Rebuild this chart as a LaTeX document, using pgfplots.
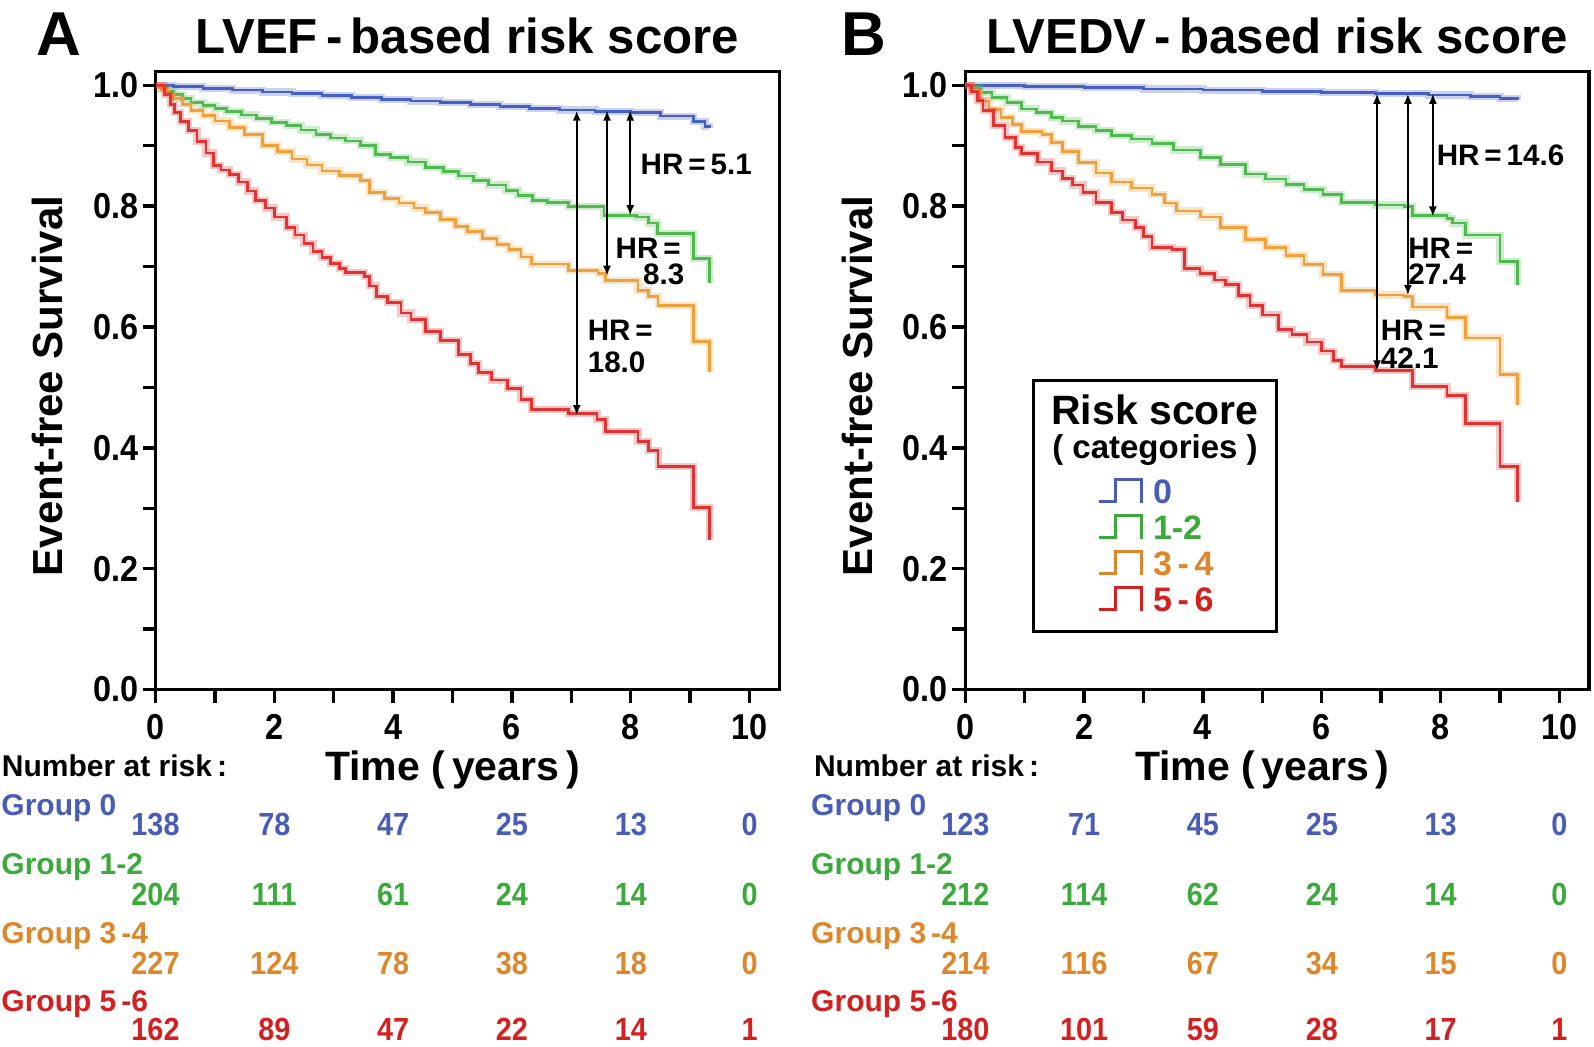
\documentclass[border=0pt]{standalone}
\usepackage{fontspec}
\setmainfont{Liberation Sans}
\newfontfamily\condfont{Liberation Sans}[FakeStretch=0.9]
\usepackage{pgfplots}
\pgfplotsset{compat=1.18}
\usepackage{pgfplotstable}
\usetikzlibrary{arrows.meta}

\definecolor{cblue}{RGB}{70,95,195}
\definecolor{cgreen}{RGB}{80,185,80}
\definecolor{corange}{RGB}{240,160,60}
\definecolor{cred}{RGB}{228,50,50}
\definecolor{tblue}{RGB}{72,92,184}
\definecolor{tgreen}{RGB}{58,170,58}
\definecolor{torange}{RGB}{222,134,42}
\definecolor{tred}{RGB}{212,32,32}

% ---------- Panel A data ----------
\pgfplotstableread{
x y
0 1.000
0.3 0.998
0.8 0.995
1.3 0.992
1.8 0.989
2.3 0.986
2.8 0.983
3.3 0.980
3.8 0.977
4.3 0.974
4.8 0.971
5.3 0.968
5.8 0.965
6.3 0.962
6.8 0.959
7.4 0.957
8.0 0.955
8.5 0.949
9.05 0.940
9.25 0.932
9.32 0.930
}\Ablue
\pgfplotstableread{
x y
0 1.0
0.1 0.995
0.2 0.990
0.3 0.985
0.45 0.978
0.6 0.972
0.8 0.967
1.0 0.962
1.2 0.957
1.45 0.951
1.7 0.945
1.95 0.939
2.2 0.933
2.45 0.926
2.7 0.918
2.95 0.913
3.2 0.908
3.45 0.900
3.7 0.886
3.95 0.880
4.25 0.873
4.55 0.864
4.85 0.857
5.1 0.850
5.35 0.842
5.6 0.835
5.9 0.826
6.1 0.818
6.35 0.809
6.6 0.806
6.95 0.799
7.55 0.785
8.1 0.782
8.3 0.772
8.45 0.755
9.05 0.713
9.32 0.672
}\Agreen
\pgfplotstableread{
x y
0 1.0
0.1 0.993
0.2 0.985
0.3 0.978
0.45 0.968
0.6 0.958
0.8 0.950
1.0 0.941
1.25 0.930
1.5 0.918
1.8 0.900
2.05 0.890
2.3 0.878
2.55 0.868
2.8 0.858
3.1 0.851
3.45 0.843
3.6 0.823
3.85 0.813
4.1 0.805
4.35 0.797
4.55 0.789
4.8 0.778
5.05 0.766
5.25 0.758
5.5 0.747
5.75 0.737
5.95 0.728
6.15 0.716
6.33 0.704
6.95 0.694
7.45 0.688
7.57 0.677
8.12 0.660
8.3 0.650
8.46 0.636
9.05 0.576
9.32 0.525
}\Aorange
\pgfplotstableread{
x y
0 1.0
0.15 0.985
0.25 0.968
0.32 0.955
0.42 0.940
0.55 0.925
0.7 0.907
0.85 0.888
0.98 0.867
1.1 0.860
1.25 0.852
1.4 0.840
1.55 0.825
1.68 0.809
1.85 0.797
2.0 0.782
2.2 0.765
2.35 0.752
2.5 0.738
2.65 0.725
2.8 0.715
2.95 0.705
3.1 0.697
3.2 0.690
3.52 0.683
3.6 0.668
3.72 0.650
3.9 0.640
4.13 0.623
4.3 0.612
4.55 0.592
4.8 0.578
5.1 0.555
5.3 0.540
5.44 0.525
5.65 0.512
5.92 0.498
6.15 0.480
6.33 0.464
6.95 0.457
7.43 0.447
7.57 0.427
8.12 0.410
8.3 0.395
8.46 0.369
9.05 0.301
9.32 0.247
}\Ared

% ---------- Panel B data ----------
\pgfplotstableread{
x y
0 1.0
1 0.998
2 0.996
3 0.994
4 0.992
5 0.990
6 0.988
6.9 0.986
7.8 0.984
8.5 0.982
9.0 0.978
9.3 0.977
}\Bblue
\pgfplotstableread{
x y
0 1.0
0.1 0.996
0.26 0.988
0.45 0.980
0.7 0.971
0.95 0.961
1.2 0.955
1.45 0.947
1.63 0.941
1.9 0.932
2.2 0.925
2.46 0.917
2.8 0.911
3.14 0.904
3.5 0.893
3.96 0.880
4.3 0.869
4.72 0.853
5.05 0.845
5.4 0.836
5.7 0.828
6.02 0.819
6.33 0.806
6.91 0.802
7.39 0.799
7.53 0.785
8.11 0.779
8.2 0.772
8.42 0.752
9.0 0.708
9.3 0.670
}\Bgreen
\pgfplotstableread{
x y
0 1.0
0.1 0.99
0.26 0.974
0.4 0.960
0.6 0.947
0.8 0.935
0.95 0.924
1.29 0.918
1.45 0.905
1.63 0.890
1.9 0.872
2.2 0.855
2.46 0.840
2.8 0.830
3.14 0.819
3.35 0.805
3.55 0.792
3.96 0.782
4.3 0.765
4.72 0.745
5.05 0.732
5.4 0.718
5.7 0.703
6.02 0.687
6.33 0.660
6.91 0.653
7.39 0.650
7.53 0.633
8.11 0.616
8.42 0.582
9.0 0.521
9.3 0.471
}\Borange
\pgfplotstableread{
x y
0 1.0
0.1 0.99
0.2 0.975
0.3 0.958
0.47 0.934
0.67 0.914
0.85 0.897
0.95 0.887
1.22 0.873
1.45 0.858
1.63 0.846
1.8 0.835
1.98 0.823
2.2 0.806
2.46 0.789
2.65 0.777
2.87 0.765
3.0 0.750
3.14 0.731
3.48 0.728
3.69 0.697
3.95 0.688
4.2 0.678
4.38 0.670
4.6 0.652
4.79 0.636
5.0 0.620
5.27 0.596
5.5 0.588
5.75 0.575
6.0 0.560
6.2 0.545
6.33 0.535
6.91 0.528
7.53 0.501
8.11 0.487
8.42 0.440
9.0 0.369
9.3 0.311
}\Bred

\newcommand{\tabfont}{\fontsize{15}{15}\selectfont\bfseries}
\newcommand{\numfont}{\condfont\fontsize{16}{16}\selectfont\bfseries}
\newcommand{\hrfont}{\fontsize{14.8}{15}\selectfont\bfseries}
\newcommand{\km}[2]{%
  \addplot[#1, line width=3.6pt, opacity=0.28, const plot, forget plot] table {#2};
  \addplot[#1, line width=1.35pt, const plot, forget plot] table {#2};}
\newcommand{\riskrow}[8]{%
  \node[anchor=base, text=#1, font=\numfont, inner sep=0pt] at (axis cs:0,#2) {#3};
  \node[anchor=base, text=#1, font=\numfont, inner sep=0pt] at (axis cs:2,#2) {#4};
  \node[anchor=base, text=#1, font=\numfont, inner sep=0pt] at (axis cs:4,#2) {#5};
  \node[anchor=base, text=#1, font=\numfont, inner sep=0pt] at (axis cs:6,#2) {#6};
  \node[anchor=base, text=#1, font=\numfont, inner sep=0pt] at (axis cs:8,#2) {#7};
  \node[anchor=base, text=#1, font=\numfont, inner sep=0pt] at (axis cs:10,#2) {#8};}
\newcommand{\grp}[3]{%
  \node[anchor=base west, text=#1, font=\tabfont, inner sep=0pt] at (axis cs:-2.6,#2) {#3};}
\newcommand{\hrarrow}[3]{%
  \draw[line width=0.8pt, {Latex[length=5pt,width=4pt]}-{Latex[length=5pt,width=4pt]}] (axis cs:#1,#2) -- (axis cs:#1,#3);}

\pgfplotsset{kmstyle/.style={
  scale only axis, width=311.9pt, height=309.05pt,
  xmin=0, xmax=10.5, ymin=0, ymax=1.023,
  axis line style={line width=1.7pt},
  every tick/.style={line width=1.7pt, black},
  tick align=outside, major tick length=6.5pt, minor tick length=6.5pt,
  xtick={0,2,4,6,8,10}, minor xtick={1,3,5,7,9},
  ytick={0,0.2,0.4,0.6,0.8,1.0}, minor ytick={0.1,0.3,0.5,0.7,0.9},
  xtick pos=bottom, ytick pos=left,
  yticklabel style={/pgf/number format/.cd, fixed, fixed zerofill, precision=1, /tikz/.cd, inner sep=0pt, xshift=-2pt},
  xticklabel style={/pgf/number format/.cd, fixed, precision=0, /tikz/.cd, yshift=-2.5pt},
  tick label style={font=\condfont\fontsize{18}{18}\selectfont\bfseries},
  /pgf/number format/assume math mode=true,
  clip=false}}

\begin{document}
\begin{tikzpicture}
\useasboundingbox (0,0) rectangle (797pt,-523.5pt);

% ---------------- Panel A ----------------
\begin{axis}[kmstyle, at={(77.75pt,-344.75pt)}, anchor=south west]
\km{cblue}{\Ablue}
\km{cgreen}{\Agreen}
\km{corange}{\Aorange}
\km{cred}{\Ared}
\hrarrow{7.09}{0.958}{0.454}
\hrarrow{7.60}{0.958}{0.685}
\hrarrow{7.99}{0.958}{0.785}
\node[anchor=west, font=\hrfont, inner sep=0pt] at (axis cs:8.16,0.869) {HR\,=\,5.1};
\node[anchor=west, font=\hrfont, inner sep=0pt] at (axis cs:7.74,0.731) {HR\,=};
\node[anchor=west, font=\hrfont, inner sep=0pt] at (axis cs:8.2,0.687) {8.3};
\node[anchor=west, font=\hrfont, inner sep=0pt] at (axis cs:7.27,0.595) {HR\,=};
\node[anchor=west, font=\hrfont, inner sep=0pt] at (axis cs:7.27,0.542) {18.0};
\grp{tblue}{-0.2077}{Group 0}
\grp{tgreen}{-0.3054}{Group 1-2}
\grp{torange}{-0.4196}{Group 3\,-4}
\grp{tred}{-0.5325}{Group 5\,-6}
\riskrow{tblue}{-0.2408}{138}{78}{47}{25}{13}{0}
\riskrow{tgreen}{-0.3583}{204}{111}{61}{24}{14}{0}
\riskrow{torange}{-0.4725}{227}{124}{78}{38}{18}{0}
\riskrow{tred}{-0.5810}{162}{89}{47}{22}{14}{1}
\end{axis}

% ---------------- Panel B ----------------
\begin{axis}[kmstyle, at={(482.65pt,-344.75pt)}, anchor=south west]
\km{cblue}{\Bblue}
\km{cgreen}{\Bgreen}
\km{corange}{\Borange}
\km{cred}{\Bred}
\hrarrow{6.93}{0.986}{0.528}
\hrarrow{7.45}{0.986}{0.653}
\hrarrow{7.87}{0.986}{0.783}
\node[anchor=west, font=\hrfont, inner sep=0pt] at (axis cs:7.93,0.884) {HR\,=\,14.6};
\node[anchor=west, font=\hrfont, inner sep=0pt] at (axis cs:7.45,0.731) {HR\,=};
\node[anchor=west, font=\hrfont, inner sep=0pt] at (axis cs:7.45,0.687) {27.4};
\node[anchor=west, font=\hrfont, inner sep=0pt] at (axis cs:6.99,0.595) {HR\,=};
\node[anchor=west, font=\hrfont, inner sep=0pt] at (axis cs:6.99,0.549) {42.1};
\grp{tblue}{-0.2077}{Group 0}
\grp{tgreen}{-0.3054}{Group 1-2}
\grp{torange}{-0.4196}{Group 3\,-4}
\grp{tred}{-0.5325}{Group 5\,-6}
\riskrow{tblue}{-0.2408}{123}{71}{45}{25}{13}{0}
\riskrow{tgreen}{-0.3583}{212}{114}{62}{24}{14}{0}
\riskrow{torange}{-0.4725}{214}{116}{67}{34}{15}{0}
\riskrow{tred}{-0.5810}{180}{101}{59}{28}{17}{1}
\end{axis}

% ---------------- Titles and labels ----------------
\node[anchor=base, font=\fontsize{31}{31}\selectfont\bfseries, inner sep=0pt] at (29.25pt,-28pt) {A};
\node[anchor=base, font=\fontsize{24.6}{25}\selectfont\bfseries, inner sep=0pt] at (233.75pt,-27pt) {LVEF\,-\,based risk score};
\node[anchor=base, font=\fontsize{31}{31}\selectfont\bfseries, inner sep=0pt] at (432pt,-28pt) {B};
\node[anchor=base, font=\fontsize{24.6}{25}\selectfont\bfseries, inner sep=0pt] at (638.5pt,-27pt) {LVEDV\,-\,based risk score};

\node[rotate=90, font=\fontsize{21}{21}\selectfont\bfseries, inner sep=0pt] at (23.5pt,-193pt) {Event-free Survival};
\node[rotate=90, font=\fontsize{21}{21}\selectfont\bfseries, inner sep=0pt] at (428.5pt,-193pt) {Event-free Survival};

\node[anchor=base, font=\fontsize{20.5}{20.5}\selectfont\bfseries, inner sep=0pt] at (226.25pt,-390pt) {Time (\,years\,)};
\node[anchor=base, font=\fontsize{20.5}{20.5}\selectfont\bfseries, inner sep=0pt] at (631.15pt,-390pt) {Time (\,years\,)};

\node[anchor=base west, font=\tabfont, inner sep=0pt] at (0.8pt,-388.3pt) {Number at risk\,:};
\node[anchor=base west, font=\tabfont, inner sep=0pt] at (406.8pt,-388.3pt) {Number at risk\,:};

% ---------------- Legend (panel B) ----------------
\draw[line width=1.7pt] (516.65pt,-190.2pt) rectangle (638.35pt,-315.7pt);
\node[anchor=base, font=\fontsize{20.5}{20.5}\selectfont\bfseries, inner sep=0pt] at (577.5pt,-212.3pt) {Risk score};
\node[anchor=base, font=\fontsize{16.5}{16.5}\selectfont\bfseries, inner sep=0pt] at (577.5pt,-229.3pt) {( categories )};
\newcommand{\stepicon}{\rule{7.5pt}{1.4pt}\rule{1.4pt}{12.5pt}\raisebox{11.1pt}{\rule{11.5pt}{1.4pt}}\rule{1.4pt}{12.5pt}}
\node[anchor=base west, font=\fontsize{17}{17}\selectfont\bfseries, inner sep=0pt, text=tblue] at (549.5pt,-251.5pt) {\stepicon\hspace{5pt}0};
\node[anchor=base west, font=\fontsize{17}{17}\selectfont\bfseries, inner sep=0pt, text=tgreen] at (549.5pt,-269.5pt) {\stepicon\hspace{5pt}1-2};
\node[anchor=base west, font=\fontsize{17}{17}\selectfont\bfseries, inner sep=0pt, text=torange] at (549.5pt,-287.5pt) {\stepicon\hspace{5pt}3\,-\,4};
\node[anchor=base west, font=\fontsize{17}{17}\selectfont\bfseries, inner sep=0pt, text=tred] at (549.5pt,-305.5pt) {\stepicon\hspace{5pt}5\,-\,6};
\end{tikzpicture}
\end{document}
